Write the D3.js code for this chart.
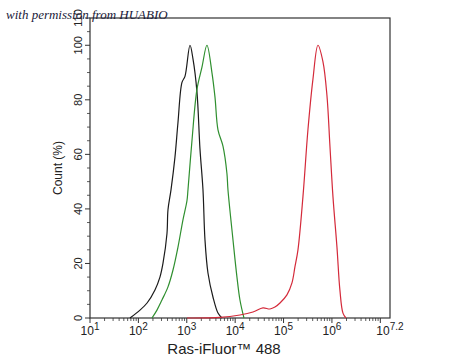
<!DOCTYPE html>
<html>
<head>
<meta charset="utf-8">
<script src="https://cdn.jsdelivr.net/npm/d3@7"></script>
<style>
  body { margin: 0; background: #fff; }
  svg { display: block; }
</style>
</head>
<body>
<div id="chart"></div>
<script>
// intensity values and count (%)
var blackX = [67, 108, 151, 220, 279, 322, 390, 409, 472, 570, 658, 796, 918, 1165, 1343, 1622, 1874, 2162, 2377, 2742, 3477, 4416, 5330];
var blackY = [0, 2.9, 5.5, 10.3, 15, 20, 31, 39.7, 47, 59, 71.7, 86.4, 88.6, 100, 95, 83, 62, 47, 28.7, 16.5, 7.7, 1.8, 0];

var greenX = [191, 242, 307, 409, 519, 658, 834, 1009, 1059, 1280, 1622, 2061, 2612, 3311, 3829, 4416, 5600, 6760, 7100, 9010, 10890, 12560, 15200];
var greenY = [0, 2.9, 6.6, 11.4, 17.6, 26, 36, 43, 47, 65, 83.8, 92, 100, 90, 81, 69, 63, 53, 47, 28.7, 15, 6.6, 0];

var redX = [1009, 4850, 12560, 23330, 37500, 52360, 66370, 84330, 117500, 149300, 172200, 198600, 251800, 319300, 404700, 514000, 651600, 788800, 909900, 1050000, 1270000, 1460000, 1690000, 1950000];
var redY = [0, 0.2, 1.1, 2.2, 3.7, 3.3, 4, 5.5, 8.5, 12.9, 18.8, 25, 44.5, 69, 87.5, 100, 94, 81.6, 63, 44.5, 26, 10.3, 1.8, 0];

var yTicks = [0, 20, 40, 60, 80, 100, 110];
var xExps = [1, 2, 3, 4, 5, 6, 7.2];

var margin = { top: 18, left: 90, right: 60, bottom: 42 },
    width = 450 - margin.left - margin.right,
    height = 360 - margin.top - margin.bottom;

var svg = d3.select("#chart").append("svg")
  .attr("width", 450)
  .attr("height", 360);

var g = svg.append("g")
  .attr("transform", "translate(" + margin.left + "," + margin.top + ")");

var x = d3.scaleLog().domain([10, Math.pow(10, 7.2)]).range([0, width]);
var y = d3.scaleLinear().domain([0, 110]).range([height, 0]);

var axisColor = "#333";

// minor ticks on x
var minorX = [];
for (var e = 1; e < 8; e++) {
  for (var m = 2; m <= 9; m++) {
    var v = m * Math.pow(10, e);
    if (v < Math.pow(10, 7.2)) minorX.push(v);
  }
}
g.selectAll(".xminor").data(minorX).enter().append("line")
  .attr("x1", function(d) { return x(d); })
  .attr("x2", function(d) { return x(d); })
  .attr("y1", height).attr("y2", height + 3)
  .attr("stroke", axisColor).attr("stroke-width", 0.8);

var majorX = [10, 100, 1000, 1e4, 1e5, 1e6, 1e7];
g.selectAll(".xmajor").data(majorX).enter().append("line")
  .attr("x1", function(d) { return x(d); })
  .attr("x2", function(d) { return x(d); })
  .attr("y1", height).attr("y2", height + 5)
  .attr("stroke", axisColor).attr("stroke-width", 1);

// x tick labels: 10 with superscript exponent
var xl = g.selectAll(".xlab").data(xExps).enter().append("text")
  .attr("x", function(d) { return x(Math.pow(10, d)); })
  .attr("y", height + 17)
  .attr("text-anchor", "middle")
  .attr("font-family", "Liberation Sans, Arial, sans-serif")
  .attr("font-size", 12)
  .attr("fill", "#222");
xl.append("tspan").text("10");
xl.append("tspan").attr("dy", -5).attr("font-size", 10).text(function(d) { return d; });

// y minor ticks
var minorY = d3.range(0, 110, 5).filter(function(d) { return d % 20 !== 0; });
g.selectAll(".yminor").data(minorY).enter().append("line")
  .attr("x1", -3).attr("x2", 0)
  .attr("y1", function(d) { return y(d); })
  .attr("y2", function(d) { return y(d); })
  .attr("stroke", axisColor).attr("stroke-width", 0.8);

g.selectAll(".ymajor").data(yTicks).enter().append("line")
  .attr("x1", -5).attr("x2", 0)
  .attr("y1", function(d) { return y(d); })
  .attr("y2", function(d) { return y(d); })
  .attr("stroke", axisColor).attr("stroke-width", 1);

g.selectAll(".ylab").data(yTicks).enter().append("text")
  .attr("transform", function(d) { return "translate(-8," + y(d) + ") rotate(-90)"; })
  .attr("text-anchor", "middle")
  .attr("font-family", "Liberation Sans, Arial, sans-serif")
  .attr("font-size", 11)
  .attr("fill", "#222")
  .text(function(d) { return d; });

// frame
g.append("rect")
  .attr("x", 0).attr("y", 0)
  .attr("width", width).attr("height", height)
  .attr("fill", "none")
  .attr("stroke", axisColor)
  .attr("stroke-width", 1.2);

// histograms
var line = d3.line()
  .x(function(d) { return x(d[0]); })
  .y(function(d) { return y(d[1]); })
  .curve(d3.curveCatmullRom.alpha(0.5));

var series = [
  { xs: blackX, ys: blackY, color: "#1b1b1b" },
  { xs: greenX, ys: greenY, color: "#2f8f2f" },
  { xs: redX, ys: redY, color: "#d42a3a" }
];

series.forEach(function(s) {
  g.append("path")
    .datum(d3.zip(s.xs, s.ys))
    .attr("d", line)
    .attr("fill", "none")
    .attr("stroke", s.color)
    .attr("stroke-width", 1.2);
});

// axis titles
svg.append("text")
  .attr("x", 224)
  .attr("y", 354)
  .attr("text-anchor", "middle")
  .attr("font-family", "Liberation Sans, Arial, sans-serif")
  .attr("font-size", 15)
  .attr("fill", "#222")
  .text("Ras-iFluor\u2122 488");

svg.append("text")
  .attr("transform", "translate(62," + (margin.top + height / 2) + ") rotate(-90)")
  .attr("text-anchor", "middle")
  .attr("font-family", "Liberation Sans, Arial, sans-serif")
  .attr("font-size", 12)
  .attr("fill", "#222")
  .text("Count  (%)");

// watermark
svg.append("text")
  .attr("x", 6)
  .attr("y", 19)
  .attr("font-family", "Liberation Serif, serif")
  .attr("font-style", "italic")
  .attr("font-size", 13)
  .attr("fill", "#1a1a3a")
  .text("with permission from HUABIO");
</script>
</body>
</html>
